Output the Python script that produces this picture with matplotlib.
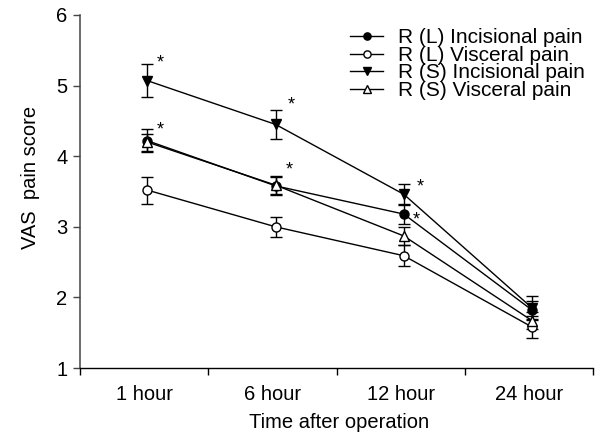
import numpy as np
import matplotlib
matplotlib.use("Agg")
import matplotlib.pyplot as plt
from matplotlib.lines import Line2D

plt.rcParams['font.family'] = ['Liberation Sans', 'DejaVu Sans']

categories = ["1 hour", "6 hour", "12 hour", "24 hour"]
series_names = ["R (L) Incisional pain", "R (L) Visceral pain",
                "R (S) Incisional pain", "R (S) Visceral pain"]

rl_incisional = [4.22, 3.58, 3.18, 1.82]
rl_incisional_err = [0.16, 0.13, 0.14, 0.13]
rl_visceral = [3.52, 3.00, 2.59, 1.58]
rl_visceral_err = [0.19, 0.14, 0.15, 0.15]
rs_incisional = [5.07, 4.45, 3.46, 1.85]
rs_incisional_err = [0.23, 0.21, 0.15, 0.17]
rs_visceral = [4.20, 3.59, 2.87, 1.67]
rs_visceral_err = [0.12, 0.13, 0.13, 0.12]

# asterisks: (series index, time index)
asterisks = [(2, 0), (0, 0), (2, 1), (3, 1), (2, 2), (0, 2)]

values = [rl_incisional, rl_visceral, rs_incisional, rs_visceral]
errors = [rl_incisional_err, rl_visceral_err, rs_incisional_err, rs_visceral_err]
styles = [dict(marker='o', mfc='black', ms=6.5),
          dict(marker='o', mfc='white', ms=6.5),
          dict(marker='v', mfc='black', ms=7.5),
          dict(marker='^', mfc='white', ms=7.5)]
ast_offsets = {(2, 0): (9, 13), (0, 0): (9, 8), (2, 1): (11, 14), (3, 1): (10, 11),
               (2, 2): (12, 5), (0, 2): (9, -4)}

fig = plt.figure(figsize=(6.07, 4.37), dpi=100)
ax = fig.add_axes([80/607, 1-368/437, 513/607, 353/437])

x = np.arange(len(categories)) + 0.025
handles = []
for name, v, e, st in zip(series_names, values, errors, styles):
    ax.errorbar(x, v, yerr=e, color='black', lw=1.0, elinewidth=1.0,
                capsize=4.5, capthick=1.0, mec='black', mew=1.0, **st)
    handles.append(Line2D([], [], color='black', lw=1.0, mec='black', mew=1.0,
                          label=name, **st))

for (si, ti) in asterisks:
    dx, dy = ast_offsets[(si, ti)]
    ax.annotate('*', (x[ti], values[si][ti]), xytext=(dx, dy),
                textcoords='offset points', ha='center', va='center',
                fontsize=13)

ax.set_xlim(-0.5, 3.5)
ax.set_ylim(1, 6)
ax.set_yticks([1, 2, 3, 4, 5, 6])
ax.set_xticks(np.arange(len(categories) + 1) - 0.5)
ax.set_xticklabels([])
ax.set_xticks(np.arange(len(categories)), minor=True)
ax.set_xticklabels(categories, minor=True)
ax.tick_params(axis='x', which='minor', length=0, pad=12, labelsize=14.5)
ax.tick_params(axis='x', which='major', length=5, width=1.0, direction='out')
ax.tick_params(axis='y', length=5, width=1.0, labelsize=14.5, pad=4, color='#444444')
for s in ['top', 'right']:
    ax.spines[s].set_visible(False)
ax.spines['left'].set_color('#444444')
ax.spines['left'].set_linewidth(1.1)
ax.spines['bottom'].set_linewidth(1.0)

fig.text(30/607, 1-177/437, 'VAS  pain score', rotation=90,
         ha='center', va='center', fontsize=14.5)
fig.text(339/607, 1-423/437, 'Time after operation',
         ha='center', va='center', fontsize=14.5)

leg = ax.legend(handles=handles, loc='upper left', bbox_to_anchor=(0.526, 0.962),
                frameon=False, fontsize=15, markerscale=0.8, labelspacing=-0.07,
                handlelength=1.6, handletextpad=0.72, borderpad=0, borderaxespad=0)

fig.savefig('out.png', dpi=100)
